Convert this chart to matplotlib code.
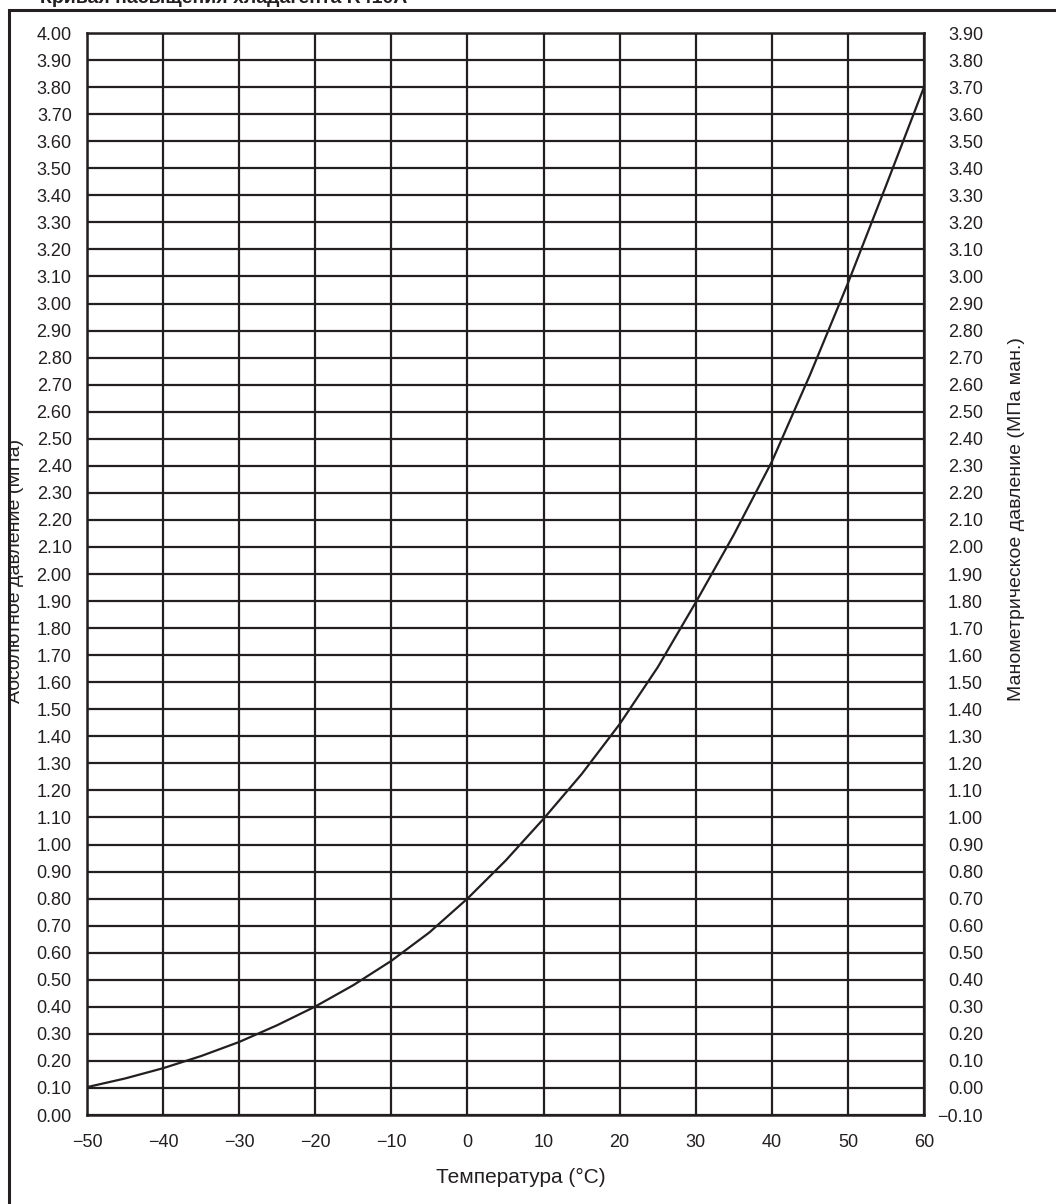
import numpy as np
import matplotlib
matplotlib.use('Agg')
import matplotlib.pyplot as plt
from matplotlib.patches import Rectangle

plt.rcParams['font.family'] = ['Liberation Sans', 'DejaVu Sans']

# saturation curve
temps = [-50, -45, -40, -35, -30, -25, -20, -15, -10, -5, 0, 5,
         10, 15, 20, 25, 30, 35, 40, 45, 50, 55, 60]
p_abs = [0.103, 0.135, 0.173, 0.218, 0.270, 0.332, 0.401, 0.480, 0.570,
         0.675, 0.800, 0.940, 1.095, 1.260, 1.445, 1.655, 1.895, 2.145,
         2.415, 2.735, 3.075, 3.435, 3.800]

x_ticks = list(range(-50, 61, 10))
left_ticks = [round(0.1 * i, 2) for i in range(41)]
right_ticks = [round(-0.1 + 0.1 * i, 2) for i in range(41)]

title = 'Кривая насыщения хладагента R410A'
xlabel = 'Температура (°C)'
ylabel_left = 'Абсолютное давление (МПа)'
ylabel_right = 'Манометрическое давление (МПа ман.)'

ink = '#231f20'
W, H = 1056, 1204
fig = plt.figure(figsize=(W / 100, H / 100), dpi=100)
ax = fig.add_axes([87 / W, 1 - 1115 / H, (924 - 87) / W, (1115 - 33) / H])

ax.plot(temps, p_abs, color=ink, lw=1.6, zorder=3)
ax.set_xlim(-50, 60)
ax.set_ylim(0, 4.0)
ax.set_xticks(x_ticks)
ax.set_xticklabels([str(t).replace('-', '\u2212') for t in x_ticks])
ax.set_yticks(left_ticks)
ax.set_yticklabels(['%.2f' % v for v in left_ticks])
ax.grid(True, color=ink, lw=1.6)
ax.set_axisbelow(True)
for s in ax.spines.values():
    s.set_color(ink)
    s.set_linewidth(1.8)
ax.tick_params(axis='both', length=0, labelsize=13, colors=ink)
ax.tick_params(axis='y', pad=11)
ax.tick_params(axis='x', pad=14)
ax.set_xlabel(xlabel, fontsize=15, color=ink)
ax.xaxis.set_label_coords(0.5185, -0.049)

ax2 = ax.twinx()
ax2.set_ylim(-0.1, 3.9)
ax2.set_yticks(right_ticks)
ax2.set_yticklabels([('%.2f' % v).replace('-', '\u2212') for v in right_ticks])
ax2.tick_params(axis='y', length=0, labelsize=13, colors=ink, pad=42.5)
for lab in ax2.get_yticklabels():
    lab.set_horizontalalignment('right')
for s in ax2.spines.values():
    s.set_visible(False)
ax2.set_ylabel(ylabel_right, fontsize=14, color=ink)
ax2.yaxis.set_label_coords(1.1, 0.551)

# left label, partly hidden behind the outer frame
fig.text(15 / W, 0.526, ylabel_left, rotation=90, fontsize=14, color=ink,
         ha='center', va='center')
fig.patches.append(Rectangle((0, 0), 9 / W, 1, transform=fig.transFigure,
                             facecolor='white', edgecolor='none', zorder=5))
fig.patches.append(Rectangle((9 / W, -0.1), 1.2, 1.1 - 10 / H,
                             transform=fig.transFigure, facecolor='none',
                             edgecolor=ink, lw=2.2, zorder=6))

# title sits above the page, only its lower edge shows
fig.text(40 / W, 1 - 3 / H, title, fontsize=14, fontweight='bold', color=ink,
         ha='left', va='baseline')

fig.savefig('out.png', dpi=100)
